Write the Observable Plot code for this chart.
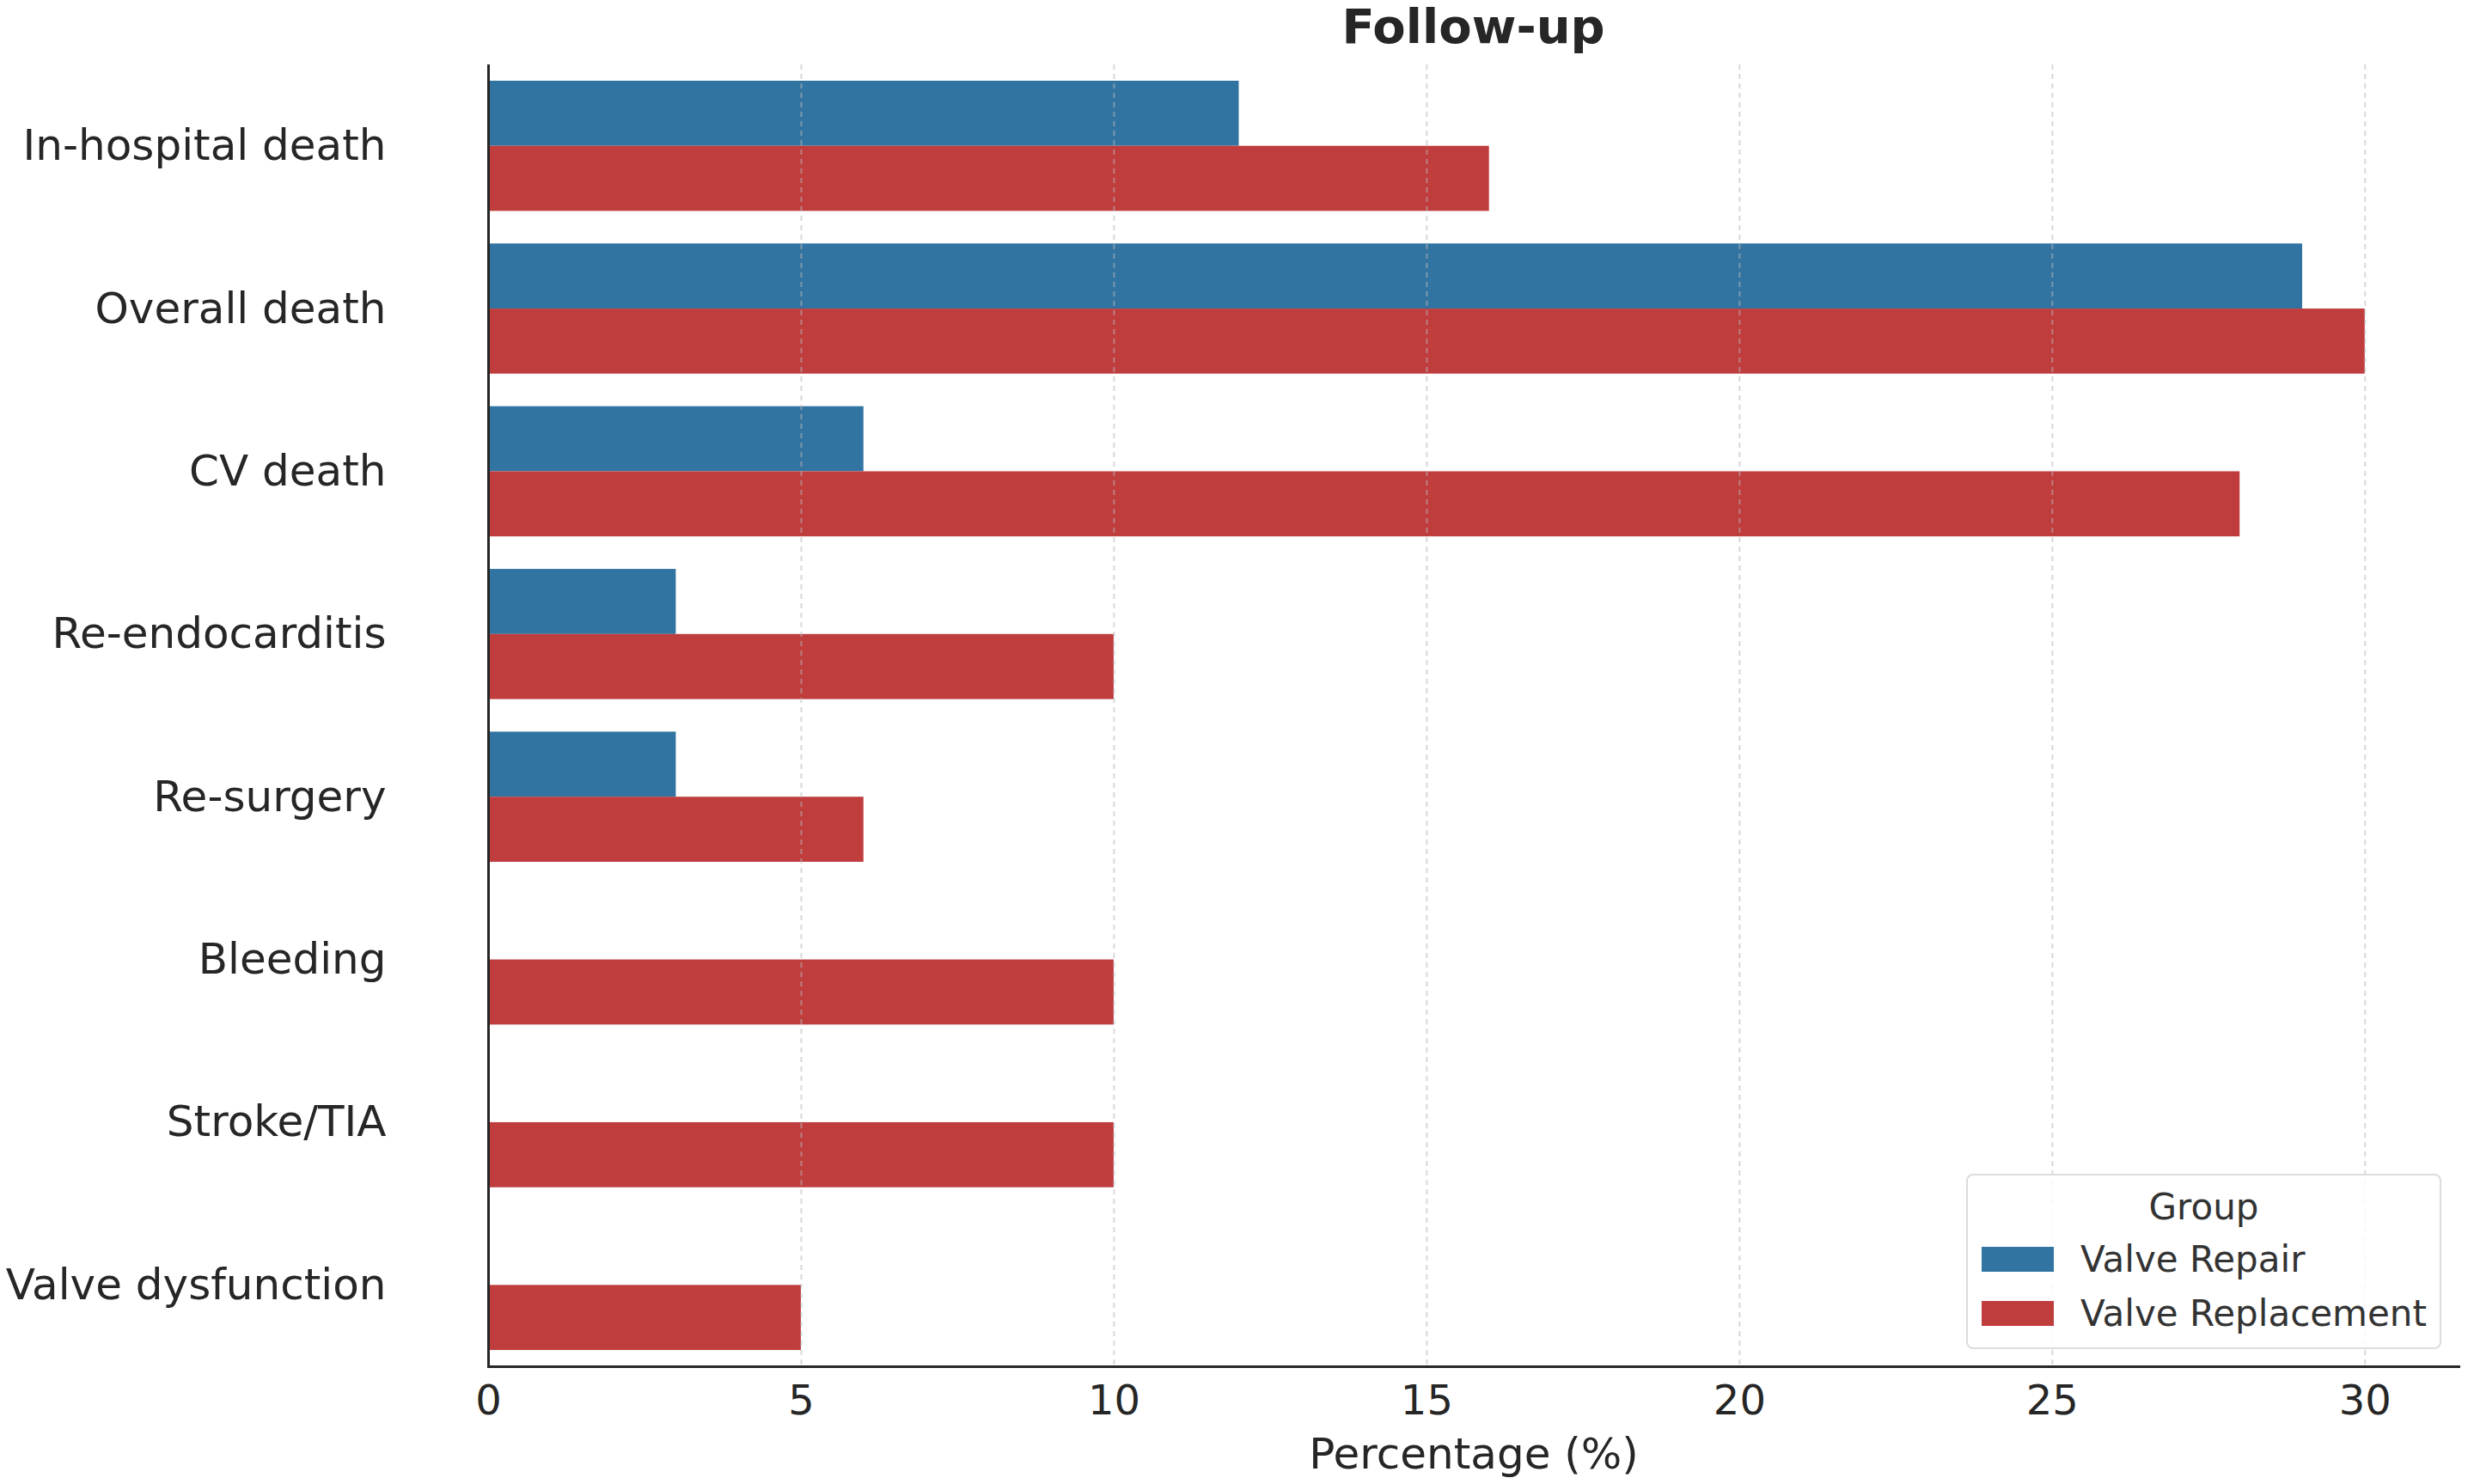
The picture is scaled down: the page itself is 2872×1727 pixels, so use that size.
<!DOCTYPE html>
<html>
<head>
<meta charset="utf-8">
<script src="https://cdn.jsdelivr.net/npm/d3@7"></script>
<script src="https://cdn.jsdelivr.net/npm/@observablehq/plot@0.6"></script>
<style>
  html, body { margin: 0; padding: 0; background: white; }
  #fig { position: relative; width: 2872px; height: 1727px; font-family: "DejaVu Sans", sans-serif; color: #262626; }
  #title { position: absolute; left: 568px; width: 2293px; top: 0; height: 62px; line-height: 62px; text-align: center; font-weight: bold; font-size: 56px; }
  #chart { position: absolute; left: 0; top: 62px; }
  #legend { position: absolute; left: 2288px; top: 1366px; width: 549px; height: 200px; border: 2px solid #dcdcdc; border-radius: 8px; background: rgba(255,255,255,0.85); font-size: 42px; color: #333; }
  #legend .ltitle { position: absolute; left: 0; right: 0; top: 12px; line-height: 50px; text-align: center; }
  #legend .row { position: absolute; left: 16px; height: 50px; display: flex; align-items: center; }
  #legend .sw { width: 84px; height: 29px; margin-right: 31px; }
</style>
</head>
<body>
<div id="fig">
  <div id="title"></div>
  <div id="chart"></div>
  <div id="legend"></div>
</div>
<script>
const titleText = "Follow-up";
const xLabel = "Percentage (%)";
const legendTitle = "Group";
const categories = ["In-hospital death", "Overall death", "CV death", "Re-endocarditis", "Re-surgery", "Bleeding", "Stroke/TIA", "Valve dysfunction"];
const groups = ["Valve Repair", "Valve Replacement"];
const repairValues = [12, 29, 6, 3, 3, 0, 0, 0];
const replacementValues = [16, 30, 28, 10, 6, 10, 10, 5];
const groupColors = ["#3274a1", "#c03d3e"];
const xTicks = [0, 5, 10, 15, 20, 25, 30];
const xMax = 31.5;

const repairRows = categories.map((c, i) => ({category: c, group: groups[0], value: repairValues[i]}));
const replacementRows = categories.map((c, i) => ({category: c, group: groups[1], value: replacementValues[i]}));

const W = 2872, H = 1665, mT = 13, mB = 137, mL = 568, mR = 11;
const padInner = 0.2, padOuter = 0.1;
const step = (H - mT - mB) / (categories.length - padInner + 2 * padOuter);
const half = step * (1 - padInner) / 2;

document.getElementById("title").textContent = titleText;

const plot = Plot.plot({
  width: W, height: H,
  marginTop: mT, marginBottom: mB, marginLeft: mL, marginRight: mR,
  style: {fontFamily: "DejaVu Sans", fontSize: "50px", color: "#262626", background: "white"},
  x: {domain: [0, xMax], ticks: xTicks},
  y: {domain: categories, paddingInner: padInner, paddingOuter: padOuter, round: false},
  color: {domain: groups, range: groupColors},
  marks: [
    Plot.barX(repairRows, {x: "value", y: "category", fill: "group", insetBottom: half}),
    Plot.barX(replacementRows, {x: "value", y: "category", fill: "group", insetTop: half}),
    Plot.ruleX(xTicks.slice(1), {stroke: "#b8b8b8", strokeOpacity: 0.55, strokeWidth: 2, strokeDasharray: "6,5"}),
    Plot.axisX({ticks: xTicks, tickSize: 0, tickPadding: 21, label: null, fontSize: 48}),
    Plot.axisY({tickSize: 0, tickPadding: 119, label: null, fontSize: 50}),
    Plot.ruleX([0], {stroke: "#262626", strokeWidth: 3}),
    Plot.frame({anchor: "bottom", stroke: "#262626", strokeWidth: 3}),
    Plot.text([xLabel], {frameAnchor: "bottom", dy: 118, fontSize: 50, fill: "#262626"})
  ]
});
document.getElementById("chart").appendChild(plot);

const legend = document.getElementById("legend");
const lt = document.createElement("div");
lt.className = "ltitle";
lt.textContent = legendTitle;
legend.appendChild(lt);
const rowTops = [72, 135];
groups.forEach((g, i) => {
  const row = document.createElement("div");
  row.className = "row";
  row.style.top = rowTops[i] + "px";
  const sw = document.createElement("div");
  sw.className = "sw";
  sw.style.background = groupColors[i];
  const tx = document.createElement("span");
  tx.textContent = g;
  row.appendChild(sw);
  row.appendChild(tx);
  legend.appendChild(row);
});
</script>
</body>
</html>
